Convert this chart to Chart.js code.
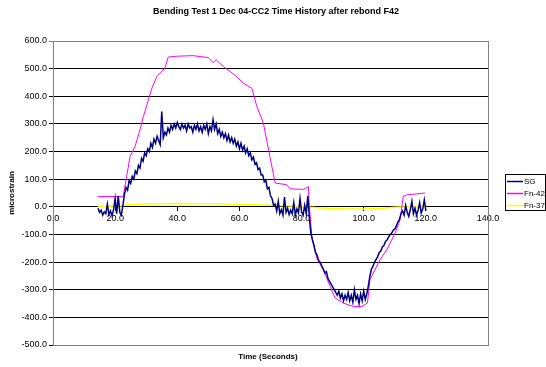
<!DOCTYPE html>
<html>
<head>
<meta charset="utf-8">
<script src="https://cdn.jsdelivr.net/npm/chart.js@4/dist/chart.umd.min.js"></script>
<style>
  html, body { margin: 0; padding: 0; background: #fff; }
  #wrap { width: 546px; height: 367px; }
</style>
</head>
<body>
<div id="wrap"><canvas id="myChart" width="546" height="367"></canvas></div>
<script>
const sgTime = [
  14.5, 15, 15.5, 16, 16.5, 17, 17.5, 18, 18.5, 19, 19.5, 20, 20.5, 21, 21.5, 22, 22.5,
  23, 23.5, 24, 24.5, 25, 25.5, 26, 26.5, 27, 27.5, 28, 28.5, 29, 29.5, 30, 30.5, 31, 31.5, 32, 32.5, 33, 33.5, 34, 34.5, 35, 35.5, 36,
  36.5, 37, 37.5, 38, 38.5, 39, 39.5, 40, 40.5, 41, 41.5, 42, 42.5, 43, 43.5, 44, 44.5, 45, 45.5, 46, 46.5, 47, 47.5, 48, 48.5, 49, 49.5, 50, 50.5, 51, 51.5, 52,
  52.5, 53, 53.5, 54, 54.5, 55, 55.5, 56, 56.5, 57, 57.5, 58, 58.5, 59, 59.5, 60, 60.5, 61, 61.5, 62, 62.5, 63, 63.5, 64, 64.5, 65, 65.5, 66, 66.5, 67, 67.5, 68, 68.5, 69, 69.5, 70, 70.5, 71, 71.5,
  72, 72.5, 73, 73.5, 74, 74.5, 75, 75.5, 76, 76.5, 77, 77.5, 78, 78.5, 79, 79.5, 80, 80.5, 81, 81.5, 82,
  82.5, 83, 83.5, 84, 84.5, 85, 85.5, 86, 86.5, 87, 87.5, 88, 88.5, 89, 89.5, 90, 90.5, 91,
  91.5, 92, 92.5, 93, 93.5, 94, 94.5, 95, 95.5, 96, 96.5, 97, 97.5, 98, 98.5, 99, 99.5, 100, 100.5, 101,
  101.5, 102, 102.5, 103, 103.5, 104, 104.5, 105, 105.5, 106, 106.5, 107, 107.5, 108, 108.5, 109, 109.5, 110, 110.5, 111, 111.5, 112,
  112.5, 113, 113.5, 114, 114.5, 115, 115.5, 116, 116.5, 117, 117.5, 118, 118.5, 119, 119.5, 120
];
const sgValues = [
  -5, -20, -12, -30, -18, -25, 10, -28, -15, -32, -10, 30, -25, 40, -20, -30, 5,
  45, 70, 60, 95, 85, 110, 100, 130, 120, 150, 140, 175, 165, 195, 185, 210, 200, 230, 215, 245, 230, 255, 240, 225, 345, 250, 270,
  260, 285, 270, 295, 280, 300, 285, 305, 290, 280, 300, 285, 295, 275, 300, 285, 290, 270, 295, 280, 300, 275, 290, 270, 295, 280, 300, 265, 290, 275, 315, 280,
  300, 265, 280, 255, 270, 250, 265, 240, 260, 235, 250, 230, 245, 220, 235, 210, 230, 205, 220, 195, 210, 185, 195, 170, 180, 155, 160, 135, 140, 115, 115, 90, 95, 65, 70, 40, 30, 5, 10,
  -15, 20, -25, -10, -30, 35, -20, -5, -28, -12, -25, 15, -30, -8, -22, 30, -18, -30, 5, -25, 40,
  -40, -95, -120, -140, -165, -175, -195, -200, -215, -225, -240, -235, -260, -270, -280, -290, -300, -310,
  -320, -305, -330, -315, -340, -320, -335, -310, -340, -320, -345, -300, -335, -320, -350, -315, -340, -305, -335, -315,
  -285, -250, -225, -215, -200, -190, -180, -165, -160, -145, -140, -125, -120, -110, -100, -95, -85, -80, -70, -55, -45, -25,
  -15, -30, 5, -20, -35, -10, 20, -25, -5, -30, -12, 15, -22, -8, 25, -15
];

// Fn-42
const fn42Time = [14.5, 22.6, 23.7, 24.8, 26.4, 28, 29.1, 30.7, 31.8, 33.4, 35, 36, 37.1, 40, 45, 50, 51.5, 52.5,
  54.8, 57, 59.1, 61.3, 64, 65.6, 67.7, 69.8, 71.5, 75.2, 76.3, 80.6, 82.2, 82.5, 83.3, 84.9, 87, 89.2, 90.8,
  93.4, 96.7, 99.4, 101.2, 102, 103.6, 105.2, 107.4, 110.1, 111.7, 112.7, 113.8, 119.7];
const fn42Values = [37, 37, 110, 182, 218, 279, 327, 387, 429, 471, 490, 502, 542, 545, 547, 540, 522, 532,
  508, 490, 471, 447, 429, 363, 303, 182, 86, 80, 65, 63, 73, 1, -107, -186, -228, -288, -330,
  -348, -361, -361, -348, -264, -228, -192, -156, -95, -47, 37, 43, 50];

// Fn-37
const fn37Time = [14.5, 18, 22, 25, 30, 40, 50, 60, 70, 75, 80, 85, 90, 95, 100, 105, 110, 115, 120];
const fn37Values = [0, 2, 4, 8, 10, 12, 11, 9, 6, 4, 1, -3, -6, -8, -8, -6, -2, 0, 0];

const yTicks = [600, 500, 400, 300, 200, 100, 0, -100, -200, -300, -400, -500];
const xTicks = [0, 20, 40, 60, 80, 100, 120, 140];

const chartTitle = 'Bending Test 1 Dec 04-CC2 Time History after rebond F42';
const xTitle = 'Time (Seconds)';

function pairs(xs, ys) {
    return xs.map(function(x, i) { return { x: x, y: ys[i] }; });
}

const FONT = 'Liberation Sans, Arial, sans-serif';

// grey frame round the plot, titles and the boxed legend on the right
const framePlugin = {
    id: 'frame',
    beforeDatasetsDraw(chart) {
        const a = chart.chartArea;
        const c = chart.ctx;
        c.save();
        c.strokeStyle = '#808080';
        c.lineWidth = 1;
        c.strokeRect(Math.round(a.left) + 0.5, Math.round(a.top) + 0.5,
            Math.round(a.right - a.left), Math.round(a.bottom - a.top));
        c.restore();
    },
    afterDraw(chart) {
        const c = chart.ctx;
        c.save();
        c.fillStyle = '#000';
        c.textAlign = 'center';
        c.textBaseline = 'middle';
        c.font = 'bold 9px ' + FONT;
        c.fillText(chartTitle, 276, 12);
        c.font = 'bold 8px ' + FONT;
        c.fillText(xTitle, 268, 357);

        c.textAlign = 'left';
        c.strokeStyle = '#000';
        c.lineWidth = 1;
        c.strokeRect(505.5, 174.5, 40, 36);
        c.font = '8px ' + FONT;
        chart.data.datasets.forEach(function(ds, i) {
            const y = 181.5 + i * 12;
            c.strokeStyle = ds.borderColor;
            c.lineWidth = 1.5;
            c.beginPath();
            c.moveTo(507, y);
            c.lineTo(523, y);
            c.stroke();
            c.fillText(ds.label, 524, y + 0.5);
        });
        c.restore();
    }
};

const ctx = document.getElementById('myChart');
// eslint-disable-next-line no-unused-vars
const myChart = new Chart(ctx, {
    type: 'line',
    data: {
        datasets: [{
            label: 'SG',
            data: pairs(sgTime, sgValues),
            borderColor: '#000080',
            borderWidth: 1.5
        }, {
            label: 'Fn-42',
            data: pairs(fn42Time, fn42Values),
            borderColor: '#FF00FF',
            borderWidth: 1
        }, {
            label: 'Fn-37',
            data: pairs(fn37Time, fn37Values),
            borderColor: '#FFFF00',
            borderWidth: 1.5
        }]
    },
    options: {
        responsive: false,
        animation: false,
        elements: {
            point: { radius: 0 },
            line: { tension: 0, fill: false }
        },
        layout: {
            padding: { left: 0, right: 58, top: 41, bottom: 22 }
        },
        plugins: {
            legend: { display: false },
            tooltip: { enabled: false },
            title: { display: false }
        },
        scales: {
            x: {
                type: 'linear',
                position: { y: 0 },
                min: 0,
                max: 140,
                afterBuildTicks: function(scale) {
                    scale.ticks = xTicks.map(function(v) { return { value: v }; });
                },
                ticks: {
                    color: '#000',
                    font: { family: FONT, size: 9 },
                    padding: 2,
                    maxRotation: 0,
                    callback: function(v) { return Number(v).toFixed(1); }
                },
                grid: {
                    drawOnChartArea: false,
                    drawTicks: true,
                    tickLength: 4,
                    color: '#000'
                },
                border: { color: '#000', width: 1 }
            },
            y: {
                min: -500,
                max: 600,
                afterBuildTicks: function(scale) {
                    scale.ticks = yTicks.map(function(v) { return { value: v }; });
                },
                afterFit: function(scale) {
                    scale.width = 53;
                },
                ticks: {
                    color: '#000',
                    font: { family: FONT, size: 9 },
                    padding: 2,
                    callback: function(v) { return Number(v).toFixed(1); }
                },
                grid: {
                    color: function(c) { return c.tick && c.tick.value === 600 ? '#808080' : '#000'; },
                    lineWidth: 1,
                    tickLength: 4
                },
                border: { color: '#000', width: 1 },
                title: {
                    display: true,
                    text: 'microstrain',
                    color: '#000',
                    font: { family: FONT, size: 8, weight: 'bold' },
                    padding: { top: 7, bottom: 0 }
                }
            }
        }
    },
    plugins: [framePlugin]
});
</script>
</body>
</html>
